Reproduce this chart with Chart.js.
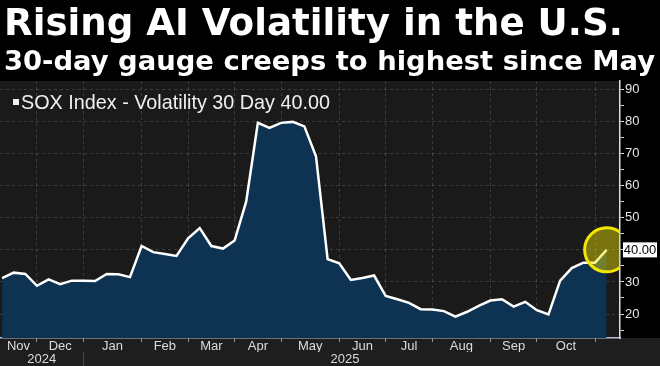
<!DOCTYPE html>
<html>
<head>
<meta charset="utf-8">
<title>Rising AI Volatility in the U.S.</title>
<script src="https://cdn.jsdelivr.net/npm/chart.js@4.4.1/dist/chart.umd.min.js"></script>
<style>
  html, body { margin: 0; padding: 0; background: #000; }
  #wrap { width: 660px; height: 366px; position: relative; }
  #wrap canvas { position: absolute; left: 0; top: 0; }
  .head { position: absolute; left: 4px; margin: 0; color: #fff; font-family: "DejaVu Sans", sans-serif;
          font-weight: bold; line-height: 1; white-space: nowrap; z-index: 2; }
  #title { top: 3.5px; font-size: 37.2px; }
  #subtitle { top: 47px; font-size: 27.4px; }
</style>
</head>
<body>
<div id="wrap">
  <canvas id="chart"></canvas>
  <h1 class="head" id="title"></h1>
  <h2 class="head" id="subtitle"></h2>
</div>
<script>
const titleText = "Rising AI Volatility in the U.S.";
const subtitleText = "30-day gauge creeps to highest since May";
const seriesLabel = "SOX Index - Volatility 30 Day";

// weekly readings, Nov 2024 -> Nov 2025
const vol30 = [
  31.2, 32.9, 32.5, 28.8, 30.8, 29.3, 30.4, 30.4, 30.3, 32.5, 32.4, 31.5,
  41.2, 39.3, 38.7, 38.1, 43.6, 46.8, 41.2, 40.4, 42.9, 55.1, 79.6, 78.0,
  79.6, 79.9, 78.5, 69.2, 37.1, 35.8, 30.6, 31.2, 32.0, 25.6, 24.6, 23.5,
  21.5, 21.4, 20.9, 19.2, 20.7, 22.5, 24.2, 24.6, 22.3, 23.8, 21.2, 19.9,
  30.4, 34.3, 36.0, 36.0, 40.0
];

// week index of the first reading of each month (where the gridlines sit)
const monthStarts = [3, 7, 12, 16, 20, 24, 29, 33, 37, 42, 46, 51];
const monthNames = ["Nov", "Dec", "Jan", "Feb", "Mar", "Apr", "May", "Jun", "Jul", "Aug", "Sep", "Oct"];
const yearStarts = [7];
const yearNames = ["2024", "2025"];

const yLabels = [20, 30, 40, 50, 60, 70, 80, 90];

document.getElementById("title").textContent = titleText;
document.getElementById("subtitle").textContent = subtitleText;

const weeks = vol30.map((_, i) => i);
const lastIdx = weeks[weeks.length - 1];
const lastVal = vol30[vol30.length - 1];

const xMin = -0.18, xMax = 53.15;

// month names sit in the middle of each month's span
const monthEdges = [xMin, ...monthStarts];
const monthMids = monthNames.map((_, i) => (monthEdges[i] + monthEdges[i + 1]) / 2);
const yearEdges = [xMin, ...yearStarts, lastIdx];
const yearMids = yearNames.map((_, i) => (yearEdges[i] + yearEdges[i + 1]) / 2);

const tickFont = { family: "Liberation Sans", size: 13, lineHeight: 1 };
const gridColor = "rgba(255,255,255,0.15)";

const decor = {
  id: "decor",
  beforeDraw(chart){
    const { ctx, chartArea: a, width, height } = chart;
    ctx.save();
    ctx.fillStyle = "#1a1a1a";
    ctx.fillRect(a.left, a.top, a.right - a.left, a.bottom - a.top);
    ctx.fillStyle = "#1e1e1e";
    ctx.fillRect(0, a.bottom, width, height - a.bottom);
    ctx.restore();
  },
  afterDraw(chart){
    const { ctx, chartArea: a } = chart;
    const meta = chart.getDatasetMeta(0);
    const last = meta.data[meta.data.length - 1];

    // yellow ring on the latest reading
    ctx.save();
    ctx.beginPath();
    ctx.rect(a.left, 0, a.right - a.left, chart.height);
    ctx.clip();
    ctx.beginPath();
    ctx.arc(last.x, last.y, 22, 0, Math.PI * 2);
    ctx.fillStyle = "rgba(235,225,0,0.45)";
    ctx.fill();
    ctx.lineWidth = 3;
    ctx.strokeStyle = "#f2e600";
    ctx.stroke();
    ctx.restore();

    // value tag on the axis
    ctx.save();
    ctx.fillStyle = "#fff";
    ctx.fillRect(a.right + 3, last.y - 7.5, 34, 15);
    ctx.fillStyle = "#000";
    ctx.font = "13px 'Liberation Sans'";
    ctx.textAlign = "center";
    ctx.textBaseline = "middle";
    ctx.fillText(lastVal.toFixed(2), a.right + 20, last.y + 0.5);
    ctx.restore();

    // legend
    ctx.save();
    ctx.fillStyle = "#f0f0f0";
    ctx.fillRect(a.left + 13, a.top + 18, 6, 6);
    ctx.font = "19.8px 'Liberation Sans'";
    ctx.textBaseline = "alphabetic";
    ctx.fillText(seriesLabel + " " + lastVal.toFixed(2), a.left + 21, a.top + 28);
    ctx.restore();
  }
};

new Chart(document.getElementById("chart"), {
  type: "line",
  data: {
    labels: weeks,
    datasets: [{
      label: seriesLabel,
      data: vol30,
      borderColor: "#ffffff",
      borderWidth: 2.5,
      backgroundColor: "#0e3252",
      fill: "start",
      tension: 0,
      pointRadius: 0
    }]
  },
  options: {
    responsive: true,
    maintainAspectRatio: false,
    animation: false,
    events: [],
    layout: { padding: { top: 81 } },
    plugins: {
      legend: { display: false },
      tooltip: { enabled: false }
    },
    scales: {
      x: {
        type: "linear", position: "bottom", min: xMin, max: xMax, z: 1,
        afterBuildTicks: (s) => {
          s.ticks = [...monthStarts, ...monthMids].sort((p, q) => p - q).map(v => ({ value: v }));
        },
        afterFit: (s) => { s.height = 14; },
        ticks: {
          autoSkip: false, maxRotation: 0, padding: -2.5, color: "#dcdcdc", font: tickFont,
          callback: (v) => { const k = monthMids.indexOf(v); return k >= 0 ? monthNames[k] : ""; }
        },
        grid: {
          color: (c) => monthStarts.includes(c.tick && c.tick.value) ? gridColor : "transparent",
          tickColor: (c) => monthStarts.includes(c.tick && c.tick.value) ? "#9a9a9a" : "transparent",
          tickLength: 4
        },
        border: { color: "#b8c2cc", width: 1.5, dash: [3, 3] }
      },
      x2: {
        type: "linear", position: "bottom", min: xMin, max: xMax, weight: 1,
        afterBuildTicks: (s) => {
          s.ticks = [...yearMids, ...yearStarts].sort((p, q) => p - q).map(v => ({ value: v }));
        },
        afterFit: (s) => { s.height = 14; },
        ticks: {
          autoSkip: false, maxRotation: 0, padding: -13, color: "#dcdcdc", font: tickFont,
          callback: (v) => { const k = yearMids.indexOf(v); return k >= 0 ? yearNames[k] : ""; }
        },
        grid: {
          drawOnChartArea: false, drawTicks: true, tickLength: 14, color: "transparent",
          tickColor: (c) => yearStarts.includes(c.tick && c.tick.value) ? "#4a4a4a" : "transparent"
        },
        border: { display: false }
      },
      y: {
        position: "right", min: 12.52, max: 92.65, z: 1,
        afterFit: (s) => { s.width = 40; },
        ticks: {
          stepSize: 5, includeBounds: false, autoSkip: false, padding: 1,
          color: "#e6e6e6", font: { family: "Liberation Sans", size: 13 },
          callback: (v) => yLabels.includes(v) ? v : ""
        },
        grid: {
          color: (c) => yLabels.includes(c.tick && c.tick.value) ? gridColor : "transparent",
          tickColor: "#d8d8d8",
          tickLength: 4
        },
        border: { color: "#e0e0e0", width: 1.5, dash: [3, 3] }
      }
    }
  },
  plugins: [decor]
});
</script>
</body>
</html>
